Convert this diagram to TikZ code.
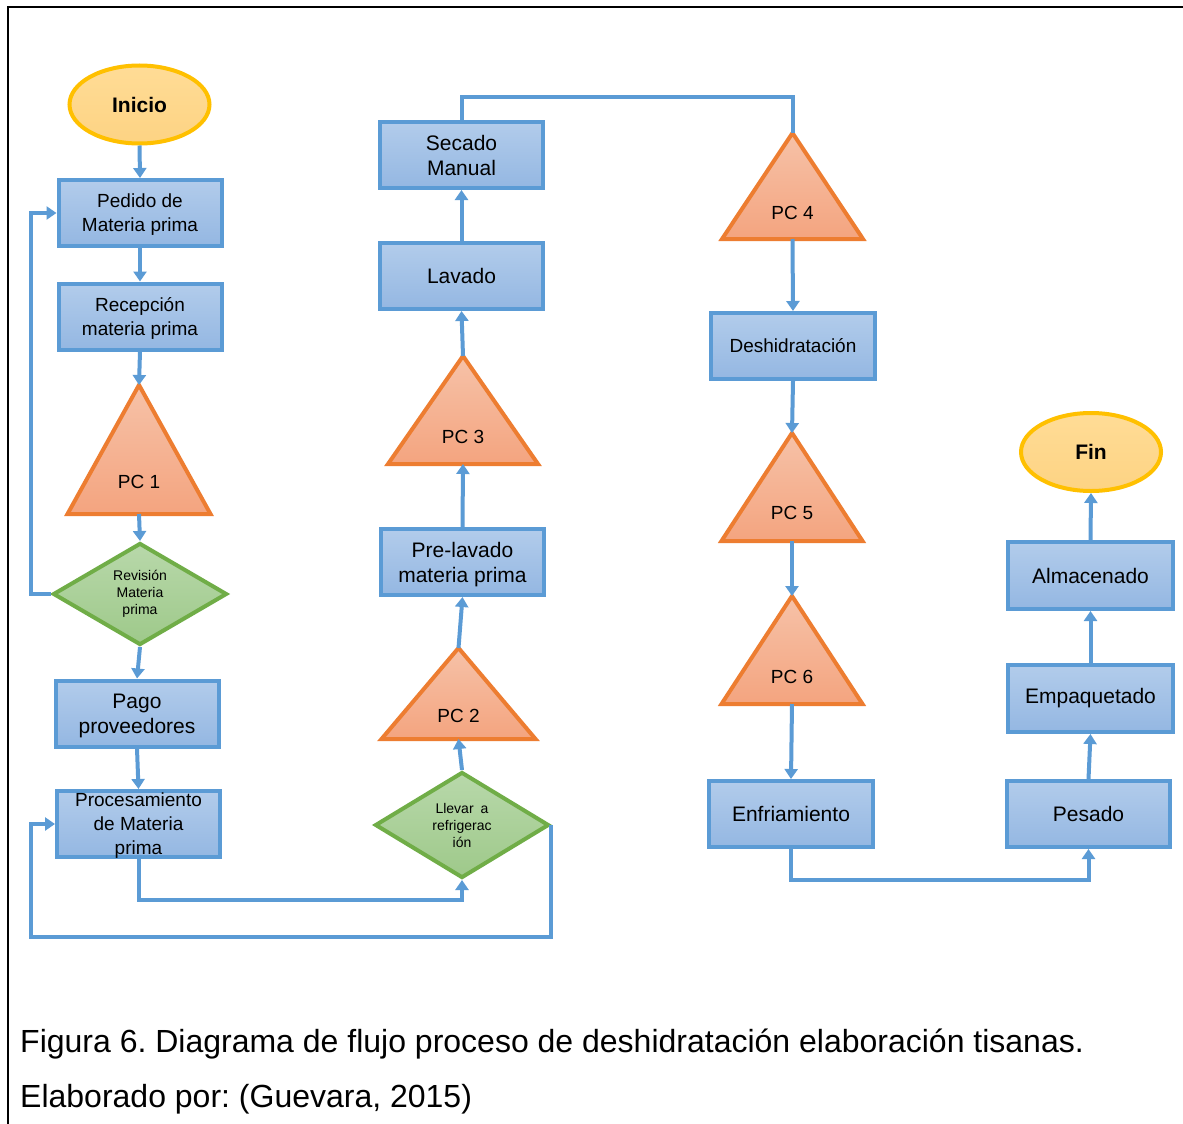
\documentclass[tikz,border=0pt]{standalone}
\usepackage{fontspec}
\setmainfont{Liberation Sans}
\usetikzlibrary{shapes.geometric,arrows.meta,calc}
\definecolor{bbord}{HTML}{5B9BD5}
\definecolor{btop}{HTML}{B2CCEB}
\definecolor{bbot}{HTML}{94B7E2}
\definecolor{tbord}{HTML}{ED7D31}
\definecolor{ttop}{HTML}{F6C2A8}
\definecolor{tbot}{HTML}{F4A47F}
\definecolor{gbord}{HTML}{70AD47}
\definecolor{gtop}{HTML}{B8D8AA}
\definecolor{gbot}{HTML}{9EC98A}
\definecolor{ybord}{HTML}{FFC000}
\definecolor{ytop}{HTML}{FFDC96}
\definecolor{ybot}{HTML}{FDD383}
\newcommand\fontAA{\fontsize{21}{25}\selectfont}
\newcommand\fontBB{\fontsize{19}{24}\selectfont}
\newcommand\fontSS{\fontsize{14}{17}\selectfont}
\newcommand\fontCC{\fontsize{32}{40}\selectfont}
\newcommand\pctri[7]{%
  \node[trinode, minimum width=#5pt, minimum height={(#4-#3)*1pt}] (#1) at (#2,{(#3+#4)/2}) {};
  \shade[tri] (#1.south west) -- (#1.south east) -- (#1.north) -- cycle;
  \node[font=\fontBB, inner sep=0pt] (#1l) at (#2,#6) {#7};
}
\frenchspacing
\begin{document}
\begin{tikzpicture}[x=1pt,y=-1pt,
  box/.style={draw=bbord, line width=4pt, top color=btop, bottom color=bbot,
    minimum width=163pt, minimum height=66pt, inner sep=0pt, align=center, font=\fontAA},
  sbox/.style={box, font=\fontBB},
  trinode/.style={inner sep=0pt, outer sep=0pt},
  tri/.style={draw=tbord, line width=4pt, top color=ttop, bottom color=tbot, line join=miter},
  dia/.style={diamond, draw=gbord, line width=4pt, top color=gtop, bottom color=gbot,
    minimum width=174pt, minimum height=102pt, inner sep=0pt, align=center, font=\fontSS},
  ell/.style={ellipse, draw=ybord, line width=4pt, top color=ytop, bottom color=ybot,
    minimum width=140pt, minimum height=78pt, inner sep=0pt, font=\fontAA\bfseries},
  conn/.style={draw=bbord, line width=4pt},
  arr/.style={conn, -{Triangle[width=13pt,length=10pt]}},
  captext/.style={anchor=base west, inner sep=0pt, font=\fontCC}]
\useasboundingbox (0,0) rectangle (1183,1124);
\fill[white] (0,0) rectangle (1183,1124);
\draw[line width=2.5pt] (8,1130) -- (8,7) -- (1190,7);

% column 1
\node[ell] (ini) at (139.5,104.5) {Inicio};
\node[sbox, text depth=0pt] (ped) at (140,213) {Pedido de\\Materia prima};
\node[sbox, text depth=0pt] (rec) at (140,316.5) {Recepción\\materia prima};
\pctri{pc1}{139}{385}{514}{143}{482}{PC 1}
\node[dia] (rev) at (140,594) {Revisión\\Materia\\prima};
\node[box, text depth=0pt] (pago) at (137,713.5) {Pago\\proveedores};
\node[box, font=\fontBB, text depth=0pt] (proc) at (138.5,824) {Procesamiento\\de Materia\\prima};

% column 2
\node[dia, minimum height=106pt] (llev) at (462,825) {Llevar\enspace a\\refrigerac\\ión};
\pctri{pc2}{458.5}{648}{739}{154}{716}{PC 2}
\node[box, text depth=0pt] (pre) at (462.5,562) {Pre-lavado\\materia prima};
\pctri{pc3}{463}{356}{464}{150}{437}{PC 3}
\node[box] (lav) at (461.5,276) {Lavado};
\node[box, text depth=0pt] (sec) at (461.5,155) {Secado\\Manual};

% column 3
\pctri{pc4}{792.5}{133}{239}{141}{213}{PC 4}
\node[sbox, minimum width=164pt] (des) at (793,346) {Deshidratación};
\pctri{pc5}{792}{433}{541}{141}{513}{PC 5}
\pctri{pc6}{792}{596}{704}{141}{677}{PC 6}
\node[box, minimum width=164pt] (enf) at (791,814) {Enfriamiento};

% column 4
\node[box] (pes) at (1088.5,814) {Pesado};
\node[box, minimum width=165pt, minimum height=67pt] (emp) at (1090.5,698.5) {Empaquetado};
\node[box, minimum width=165pt, minimum height=67pt] (alm) at (1090.5,575.5) {Almacenado};
\node[ell] (fin) at (1091,452) {Fin};

% connectors
\draw[arr] (ini.south) -- (ped.north);
\draw[arr] (ped.south) -- (rec.north);
\draw[arr] (rec.south) -- (pc1.north);
\draw[arr] (pc1.south) -- (rev.north);
\draw[arr] (rev.south) -- (pago.north);
\draw[arr] (pago.south) -- (proc.north);
\draw[arr] (rev.west) -- ++(-20,0) |- (ped.west);
\draw[arr] (proc.south) -- ++(0,41) -| (llev.south);
\draw[arr] (llev.east) |- (31,937) |- (proc.west);
\draw[arr] (llev.north) -- (pc2.south);
\draw[arr] (pc2.north) -- (pre.south);
\draw[arr] (pre.north) -- (pc3.south);
\draw[arr] (pc3.north) -- (lav.south);
\draw[arr] (lav.north) -- (sec.south);
\draw[conn] (sec.north) -- ++(0,-23) -| (pc4.north);
\draw[arr] (pc4.south) -- (des.north);
\draw[arr] (des.south) -- (pc5.north);
\draw[arr] (pc5.south) -- (pc6.north);
\draw[arr] (pc6.south) -- (enf.north);
\draw[arr] (enf.south) -- ++(0,31) -| (pes.south);
\draw[arr] (pes.north) -- (emp.south);
\draw[arr] (emp.north) -- (alm.south);
\draw[arr] (alm.north) -- (fin.south);

% caption
\node[captext] (cap1) at (20,1052) {Figura 6. Diagrama de flujo proceso de deshidratación elaboración tisanas.};
\node[captext] (cap2) at (20,1107) {Elaborado por: (Guevara, 2015)};
\end{tikzpicture}
\end{document}
